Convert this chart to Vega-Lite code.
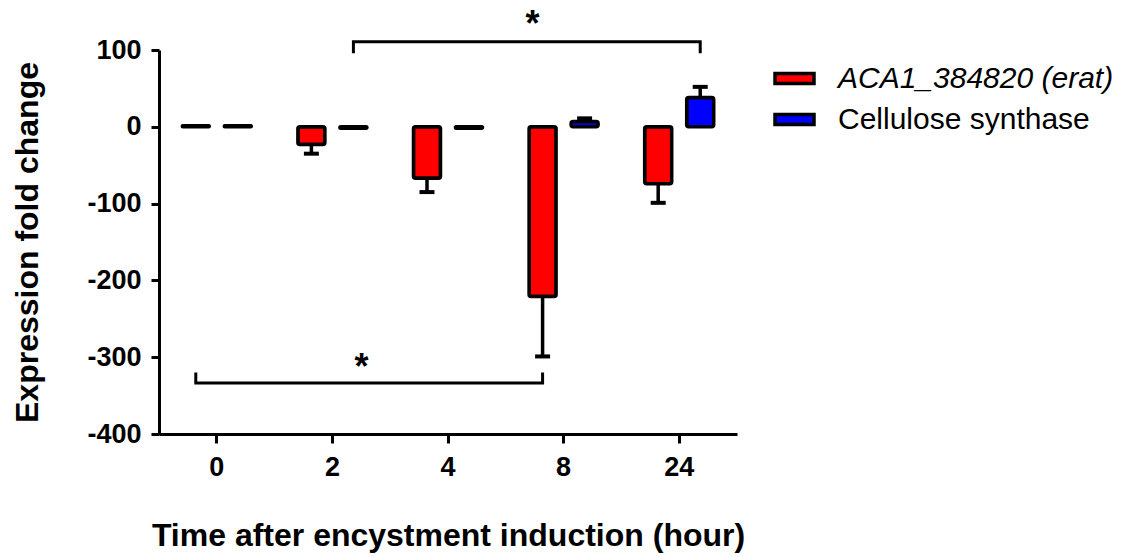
{
  "$schema": "https://vega.github.io/schema/vega-lite/v6.json",
  "width": 578,
  "height": 384,
  "autosize": {"type": "none"},
  "padding": {"left": 159, "top": 50, "right": 407, "bottom": 123},
  "background": "white",
  "config": {
    "font": "Liberation Sans",
    "view": {"stroke": null},
    "axis": {"grid": false, "domainColor": "black", "tickColor": "black", "labelColor": "black", "titleColor": "black", "domainWidth": 3, "tickWidth": 3, "labelFont": "Liberation Sans", "titleFont": "Liberation Sans", "labelFontWeight": "bold", "titleFontWeight": "bold", "labelFontSize": 27, "titleFontSize": 32}
  },
  "datasets": {
    "expr": [
      {"time": "0", "series": "ACA1_384820 (erat)", "value": 1.5},
      {"time": "0", "series": "Cellulose synthase", "value": 1.5},
      {"time": "2", "series": "ACA1_384820 (erat)", "value": -23, "errEnd": -35},
      {"time": "2", "series": "Cellulose synthase", "value": -2},
      {"time": "4", "series": "ACA1_384820 (erat)", "value": -67, "errEnd": -85},
      {"time": "4", "series": "Cellulose synthase", "value": -2},
      {"time": "8", "series": "ACA1_384820 (erat)", "value": -221, "errEnd": -299},
      {"time": "8", "series": "Cellulose synthase", "value": 7, "errEnd": 11},
      {"time": "24", "series": "ACA1_384820 (erat)", "value": -74, "errEnd": -99},
      {"time": "24", "series": "Cellulose synthase", "value": 38, "errEnd": 52}
    ],
    "brackets": [
      {"b": "top", "time": "2", "series": "Cellulose synthase", "y": 97.7, "o": 1},
      {"b": "top", "time": "2", "series": "Cellulose synthase", "y": 110.7, "o": 2},
      {"b": "top", "time": "24", "series": "Cellulose synthase", "y": 110.7, "o": 3},
      {"b": "top", "time": "24", "series": "Cellulose synthase", "y": 97.7, "o": 4},
      {"b": "bot", "time": "0", "series": "ACA1_384820 (erat)", "y": -321.8, "o": 1},
      {"b": "bot", "time": "0", "series": "ACA1_384820 (erat)", "y": -333.6, "o": 2},
      {"b": "bot", "time": "8", "series": "ACA1_384820 (erat)", "y": -333.6, "o": 3},
      {"b": "bot", "time": "8", "series": "ACA1_384820 (erat)", "y": -321.8, "o": 4}
    ],
    "starTop": [{"time": "8", "series": "ACA1_384820 (erat)", "y": 118, "label": "*"}],
    "starBot": [{"time": "2", "series": "Cellulose synthase", "y": -329, "label": "*"}]
  },
  "encoding": {
    "x": {"field": "time", "type": "nominal", "sort": ["0", "2", "4", "8", "24"],
      "scale": {"type": "band", "domain": ["0", "2", "4", "8", "24"], "paddingInner": 0, "paddingOuter": 0},
      "axis": {"title": "Time after encystment induction (hour)", "labelAngle": 0, "tickSize": 9, "labelPadding": 11, "titlePadding": 40}},
    "xOffset": {"field": "series", "type": "nominal",
      "scale": {"domain": ["ACA1_384820 (erat)", "Cellulose synthase"], "paddingInner": 0.357, "paddingOuter": 0.554}}
  },
  "layer": [
    {
      "mark": {"type": "rule", "color": "black", "strokeWidth": 3},
      "encoding": {"x": null, "xOffset": null, "y": {"datum": 0, "type": "quantitative", "scale": {"domain": [-400, 100], "nice": false}}}
    },
    {
      "data": {"name": "expr"},
      "mark": {"type": "bar", "stroke": "black", "strokeWidth": 3.5, "cornerRadius": 2},
      "encoding": {
        "y": {"field": "value", "type": "quantitative",
          "scale": {"domain": [-400, 100], "nice": false},
          "axis": {"title": "Expression fold change", "values": [100, 0, -100, -200, -300, -400], "labelExpr": "toString(datum.value)", "tickSize": 8, "labelPadding": 10, "titlePadding": 42}},
        "fill": {"field": "series", "type": "nominal",
          "scale": {"domain": ["ACA1_384820 (erat)", "Cellulose synthase"], "range": ["#ff0000", "#0000ff"]},
          "legend": {"title": null, "orient": "none", "legendX": 614, "legendY": 7, "padding": 0,
            "symbolType": "M-1,-0.26H1V0.26H-1Z", "symbolSize": 1521, "symbolStrokeColor": "black", "symbolStrokeWidth": 3.5,
            "labelFont": "Liberation Sans", "labelFontSize": 30, "labelColor": "black", "labelOffset": 22, "rowPadding": 4, "labelLimit": 500,
            "encode": {"labels": {"update": {"fontStyle": {"signal": "datum.label === 'Cellulose synthase' ? 'normal' : 'italic'"}}}}}}
      }
    },
    {
      "data": {"name": "expr"},
      "mark": {"type": "rule", "color": "black", "strokeWidth": 3.5},
      "encoding": {"y": {"field": "errEnd", "type": "quantitative"}, "y2": {"field": "value"}}
    },
    {
      "data": {"name": "expr"},
      "mark": {"type": "tick", "color": "black", "size": 15, "thickness": 4, "opacity": 1},
      "encoding": {"y": {"field": "errEnd", "type": "quantitative"}}
    },
    {
      "data": {"name": "brackets"},
      "mark": {"type": "line", "color": "black", "strokeWidth": 3, "strokeJoin": "miter", "strokeCap": "square"},
      "encoding": {"y": {"field": "y", "type": "quantitative"}, "detail": {"field": "b"}, "order": {"field": "o"}}
    },
    {
      "data": {"name": "starTop"},
      "mark": {"type": "text", "font": "Liberation Sans", "fontWeight": "bold", "fontSize": 36, "baseline": "alphabetic", "align": "center", "dx": -10, "color": "black"},
      "encoding": {"y": {"field": "y", "type": "quantitative"}, "text": {"field": "label"}}
    },
    {
      "data": {"name": "starBot"},
      "mark": {"type": "text", "font": "Liberation Sans", "fontWeight": "bold", "fontSize": 36, "baseline": "alphabetic", "align": "center", "dx": 8, "color": "black"},
      "encoding": {"y": {"field": "y", "type": "quantitative"}, "text": {"field": "label"}}
    }
  ]
}
